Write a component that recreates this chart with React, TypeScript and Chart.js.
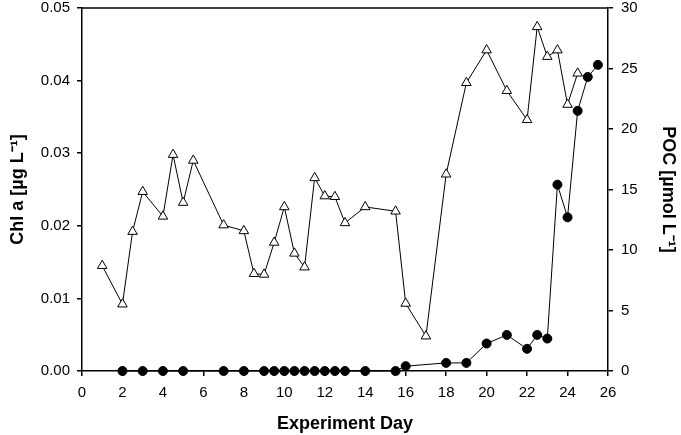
import React, { useEffect, useRef } from "react";
import { Chart } from "chart.js/auto";

// Chl a (triangles) sampling days and values
const chlDays = [1, 2, 2.5, 3, 4, 4.5, 5, 5.5, 7, 8, 8.5, 9, 9.5, 10, 10.5, 11, 11.5, 12, 12.5, 13, 14, 15.5, 16, 17, 18, 19, 20, 21, 22, 22.5, 23, 23.5, 24, 24.5];
const chlValues = [0.0145, 0.0092, 0.0192, 0.0247, 0.0213, 0.0298, 0.0232, 0.029, 0.0201, 0.0193, 0.0134, 0.0133, 0.0177, 0.0226, 0.0162, 0.0143, 0.0266, 0.0241, 0.024, 0.0204, 0.0226, 0.022, 0.0093, 0.0048, 0.0271, 0.0397, 0.0442, 0.0386, 0.0346, 0.0474, 0.0433, 0.0442, 0.0367, 0.041];

// POC (filled circles)
const pocDays = [2, 3, 4, 5, 7, 8, 9, 9.5, 10, 10.5, 11, 11.5, 12, 12.5, 13, 14, 15.5, 16, 18, 19, 20, 21, 22, 22.5, 23, 23.5, 24, 24.5, 25, 25.5];
const pocValues = [0, 0, 0, 0, 0, 0, 0, 0, 0, 0, 0, 0, 0, 0, 0, 0, 0, 0.4, 0.67, 0.67, 2.27, 2.98, 1.83, 2.98, 2.68, 15.4, 12.7, 21.5, 24.3, 25.3];

const FONT = "'Liberation Sans', Arial, sans-serif";

// frame line along the top of the plot area
const topLine = {
  id: "topLine",
  afterDraw(chart: Chart) {
    const { ctx, chartArea } = chart;
    ctx.save();
    ctx.strokeStyle = "#000";
    ctx.lineWidth = 1.5;
    ctx.beginPath();
    ctx.moveTo(chartArea.left, chartArea.top);
    ctx.lineTo(chartArea.right, chartArea.top);
    ctx.stroke();
    ctx.restore();
  },
};

const noPad = (s: any) => {
  s.paddingTop = 0;
  s.paddingBottom = 0;
  s.paddingLeft = 0;
  s.paddingRight = 0;
};

const App: React.FC = () => {
  const canvasRef = useRef<HTMLCanvasElement | null>(null);
  const chartRef = useRef<Chart | null>(null);

  useEffect(() => {
    if (!canvasRef.current) return;
    if (chartRef.current) chartRef.current.destroy();

    const tickFont = { family: FONT, size: 15 };
    const titleFont = { family: FONT, size: 18, weight: "bold" as const };
    const axisGrid = { drawOnChartArea: false, drawTicks: true, tickLength: 5, color: "#000", lineWidth: 1.5 };
    const axisBorder = { display: true, color: "#000", width: 1.5 };

    chartRef.current = new Chart(canvasRef.current, {
      type: "scatter",
      data: {
        datasets: [
          {
            label: "POC",
            data: pocDays.map((d, i) => ({ x: d, y: pocValues[i] })),
            yAxisID: "y2",
            showLine: true,
            clip: false,
            borderColor: "#000",
            borderWidth: 1,
            pointStyle: "circle",
            pointRadius: 4.5,
            pointBackgroundColor: "#000",
            pointBorderColor: "#000",
          },
          {
            label: "Chl a",
            data: chlDays.map((d, i) => ({ x: d, y: chlValues[i] })),
            yAxisID: "y",
            showLine: true,
            clip: false,
            borderColor: "#000",
            borderWidth: 1,
            pointStyle: "triangle",
            pointRadius: 5.5,
            pointBackgroundColor: "#fff",
            pointBorderColor: "#000",
            pointBorderWidth: 1,
          },
        ],
      },
      options: {
        animation: false,
        responsive: true,
        maintainAspectRatio: false,
        layout: { padding: { top: 8, left: 0, right: 0, bottom: 0 } },
        plugins: { legend: { display: false }, tooltip: { enabled: false } },
        scales: {
          x: {
            type: "linear",
            min: 0,
            max: 26,
            ticks: { stepSize: 2, color: "#000", font: tickFont, padding: 8, maxRotation: 0 },
            grid: axisGrid,
            border: axisBorder,
            title: { display: true, text: "Experiment Day", color: "#000", font: titleFont, padding: { top: 0, bottom: 0 } },
            afterFit: (s: any) => { s.height = 64; noPad(s); },
          },
          y: {
            position: "left",
            min: 0,
            max: 0.05,
            ticks: { stepSize: 0.01, color: "#000", font: tickFont, padding: 7, callback: (v: any) => Number(v).toFixed(2) },
            grid: axisGrid,
            border: axisBorder,
            title: { display: true, text: "Chl a [µg L⁻¹]", color: "#000", font: titleFont, padding: { top: 7, bottom: 0 } },
            afterFit: (s: any) => { s.width = 82; noPad(s); },
          },
          y2: {
            position: "right",
            min: 0,
            max: 30,
            ticks: { stepSize: 5, color: "#000", font: tickFont, padding: 8 },
            grid: axisGrid,
            border: axisBorder,
            title: { display: true, text: "POC [µmol L⁻¹]", color: "#000", font: titleFont, padding: { top: 2, bottom: 0 } },
            afterFit: (s: any) => { s.width = 73; noPad(s); },
          },
        },
      },
      plugins: [topLine],
    });

    return () => {
      chartRef.current?.destroy();
      chartRef.current = null;
    };
  }, []);

  return (
    <div style={{ position: "absolute", left: 0, top: 0, width: 681, height: 435, background: "#fff" }}>
      <canvas ref={canvasRef} />
    </div>
  );
};

export default App;
